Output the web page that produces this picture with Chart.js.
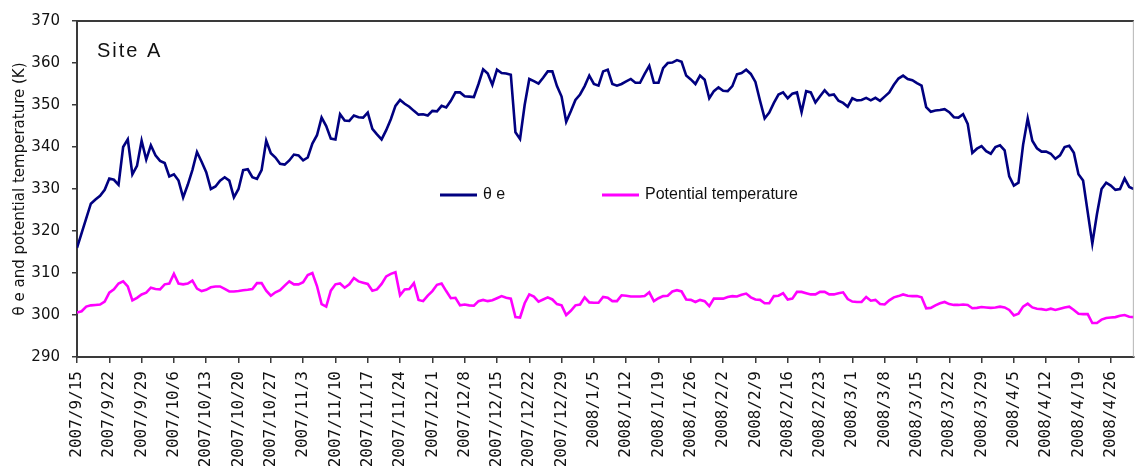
<!DOCTYPE html>
<html>
<head>
<meta charset="utf-8">
<script src="https://cdn.jsdelivr.net/npm/chart.js@4/dist/chart.umd.min.js"></script>
<style>
  html, body { margin: 0; padding: 0; background: #ffffff; }
  #wrap { width: 1138px; height: 466px; }
</style>
</head>
<body>
<div id="wrap"><canvas id="c" width="1138" height="466"></canvas></div>
<script>
// Weekly tick labels along the date axis (one every 7 days from the first day)
const tickLabels = [
  '2007/9/15','2007/9/22','2007/9/29','2007/10/6','2007/10/13','2007/10/20','2007/10/27',
  '2007/11/3','2007/11/10','2007/11/17','2007/11/24','2007/12/1','2007/12/8','2007/12/15',
  '2007/12/22','2007/12/29','2008/1/5','2008/1/12','2008/1/19','2008/1/26','2008/2/2',
  '2008/2/9','2008/2/16','2008/2/23','2008/3/1','2008/3/8','2008/3/15','2008/3/22',
  '2008/3/29','2008/4/5','2008/4/12','2008/4/19','2008/4/26'
];

// Daily equivalent potential temperature (K), starting 2007/9/15
const thetaE = [
  316.0, 319.5, 323.0, 326.5, 327.5, 328.4, 329.8, 332.5, 332.2, 331.0,
  340.0, 341.8, 333.5, 335.5, 341.5, 337.0, 340.4, 338.0, 336.7, 336.2,
  333.0, 333.5, 332.0, 328.0, 331.0, 334.5, 338.8, 336.5, 334.0, 330.0,
  330.6, 332.0, 332.8, 332.0, 328.0, 330.0, 334.5, 334.7, 332.8, 332.4,
  334.5, 341.5, 338.5, 337.5, 336.0, 335.8, 336.8, 338.2, 338.0, 336.8,
  337.5, 340.8, 342.8, 347.0, 345.0, 342.0, 341.8, 347.8, 346.3, 346.2,
  347.5, 347.1, 347.0, 348.2, 344.3, 343.0, 341.8, 344.0, 346.6, 349.8,
  351.2, 350.3, 349.6, 348.6, 347.7, 347.8, 347.5, 348.6, 348.5, 349.8,
  349.4, 351.0, 353.0, 353.0, 352.1, 352.0, 351.9, 355.0, 358.5, 357.5,
  354.8, 358.4, 357.6, 357.5, 357.2, 343.5, 341.9, 350.0, 356.2, 355.7,
  355.1, 356.5, 358.0, 358.0, 354.5, 352.0, 346.0, 348.5, 351.2, 352.5,
  354.5, 357.0, 355.0, 354.6, 358.0, 358.4, 355.0, 354.6, 355.0, 355.6,
  356.2, 355.3, 355.3, 357.4, 359.3, 355.3, 355.3, 358.8, 360.0, 360.1,
  360.7, 360.3, 357.0, 356.1, 355.0, 357.0, 356.0, 351.6, 353.3, 354.2,
  353.4, 353.3, 354.5, 357.3, 357.6, 358.4, 357.4, 355.5, 351.0, 346.8,
  348.2, 350.5, 352.5, 353.0, 351.6, 352.7, 353.0, 348.3, 353.3, 353.0,
  350.6, 352.1, 353.5, 352.3, 352.5, 351.0, 350.5, 349.6, 351.6, 351.1,
  351.2, 351.7, 351.1, 351.7, 351.0, 352.0, 353.0, 354.8, 356.3, 357.0,
  356.2, 355.9, 355.2, 354.6, 349.5, 348.4, 348.7, 348.8, 349.0, 348.3,
  347.1, 347.0, 347.8, 345.5, 338.6, 339.6, 340.2, 339.0, 338.4, 340.0,
  340.4, 339.2, 333.0, 330.8, 331.5, 340.5, 346.8, 341.5, 339.7, 338.9,
  338.9, 338.4, 337.2, 338.0, 340.0, 340.3, 338.6, 333.5, 332.0, 324.5,
  317.0, 324.0, 330.0, 331.5, 330.8, 329.8, 330.0, 332.5, 330.5, 330.0
];

// Daily potential temperature (K), same days
const potentialTemp = [
  300.6, 300.9, 302.0, 302.3, 302.4, 302.5, 303.2, 305.3, 306.1, 307.5,
  308.0, 306.8, 303.5, 304.1, 304.9, 305.3, 306.5, 306.2, 306.1, 307.3,
  307.5, 309.8, 307.5, 307.3, 307.5, 308.2, 306.3, 305.7, 306.0, 306.6,
  306.8, 306.8, 306.2, 305.6, 305.6, 305.7, 305.9, 306.0, 306.2, 307.6,
  307.6, 305.8, 304.6, 305.4, 305.9, 307.0, 308.0, 307.3, 307.3, 307.8,
  309.5, 310.0, 306.9, 302.6, 302.0, 305.8, 307.3, 307.5, 306.5, 307.3,
  308.8, 308.0, 307.7, 307.4, 305.8, 306.1, 307.4, 309.2, 309.8, 310.2,
  304.7, 306.1, 306.2, 307.6, 303.6, 303.3, 304.6, 305.7, 307.2, 307.5,
  305.7, 304.0, 304.1, 302.3, 302.5, 302.3, 302.2, 303.3, 303.6, 303.3,
  303.5, 304.0, 304.5, 304.1, 303.9, 299.5, 299.4, 302.8, 304.9, 304.4,
  303.2, 303.7, 304.2, 303.7, 302.6, 302.3, 300.0, 301.0, 302.3, 302.5,
  304.2, 303.0, 302.9, 302.9, 304.3, 304.1, 303.3, 303.3, 304.7, 304.6,
  304.4, 304.4, 304.4, 304.5, 305.4, 303.3, 304.0, 304.5, 304.6, 305.6,
  305.9, 305.6, 303.7, 303.6, 303.1, 303.6, 303.3, 302.1, 303.9, 303.9,
  303.9, 304.3, 304.5, 304.4, 304.8, 305.1, 304.2, 303.7, 303.6, 302.8,
  302.8, 304.5, 304.6, 305.2, 303.7, 303.9, 305.5, 305.5, 305.2, 304.9,
  304.9, 305.5, 305.5, 304.9, 304.9, 305.2, 305.4, 303.8, 303.2, 303.1,
  303.1, 304.3, 303.4, 303.6, 302.6, 302.5, 303.5, 304.2, 304.5, 304.9,
  304.6, 304.5, 304.5, 304.2, 301.6, 301.7, 302.3, 302.8, 303.1, 302.6,
  302.4, 302.4, 302.5, 302.4, 301.6, 301.7, 301.9, 301.8, 301.7, 301.8,
  302.0, 301.8, 301.2, 299.9, 300.3, 302.0, 302.7, 301.8, 301.5, 301.4,
  301.2, 301.5, 301.2, 301.5, 301.8, 302.0, 301.2, 300.3, 300.2, 300.2,
  298.1, 298.1, 298.9, 299.3, 299.4, 299.5, 299.8, 300.0, 299.6, 299.5
];

const seriesNames = ['\u03b8 e', 'Potential temperature'];
const yTicks = { min: 290, max: 370, step: 10 };

const toPoints = arr => arr.map((v, i) => ({ x: i, y: v }));
const lastDay = thetaE.length - 1;

// Plot frame, site caption and in-plot legend
const decorations = {
  id: 'decorations',
  afterDraw(chart) {
    const { ctx, chartArea: a } = chart;
    ctx.save();
    // top frame edge
    ctx.strokeStyle = '#3a3a3a';
    ctx.lineWidth = 2;
    ctx.beginPath();
    ctx.moveTo(a.left, a.top);
    ctx.lineTo(a.right, a.top);
    ctx.stroke();
    // right frame edge
    ctx.strokeStyle = '#b4b4b4';
    ctx.lineWidth = 1;
    ctx.beginPath();
    ctx.moveTo(a.right - 0.5, a.top);
    ctx.lineTo(a.right - 0.5, a.bottom);
    ctx.stroke();

    // site caption
    ctx.fillStyle = '#111';
    ctx.font = '20px "Liberation Sans", Arial, sans-serif';
    ctx.textBaseline = 'alphabetic';
    ctx.textAlign = 'left';
    if ('letterSpacing' in ctx) ctx.letterSpacing = '2px';
    ctx.fillText('Site A', a.left + 20, a.top + 36);
    if ('letterSpacing' in ctx) ctx.letterSpacing = '0px';

    // legend entries
    const legendY = a.top + 174;
    const entries = [
      { x: a.left + 363, ds: chart.data.datasets[0] },
      { x: a.left + 525, ds: chart.data.datasets[1] }
    ];
    ctx.font = '16px "Liberation Sans", Arial, sans-serif';
    ctx.textBaseline = 'middle';
    entries.forEach(e => {
      ctx.strokeStyle = e.ds.borderColor;
      ctx.lineWidth = 3;
      ctx.beginPath();
      ctx.moveTo(e.x, legendY);
      ctx.lineTo(e.x + 37, legendY);
      ctx.stroke();
      ctx.fillStyle = '#111';
      ctx.fillText(e.ds.label, e.x + 43, legendY);
    });
    ctx.restore();
  }
};

new Chart(document.getElementById('c'), {
  type: 'line',
  data: {
    datasets: [
      {
        label: seriesNames[0],
        data: toPoints(thetaE),
        borderColor: '#000080',
        borderWidth: 2.6,
        pointRadius: 0,
        tension: 0,
        fill: false
      },
      {
        label: seriesNames[1],
        data: toPoints(potentialTemp),
        borderColor: '#ff00ff',
        borderWidth: 2.6,
        pointRadius: 0,
        tension: 0,
        fill: false
      }
    ]
  },
  options: {
    responsive: false,
    animation: false,
    events: [],
    layout: { padding: { top: 17, right: 1, left: 0, bottom: 0 } },
    plugins: {
      legend: { display: false },
      tooltip: { enabled: false }
    },
    scales: {
      x: {
        type: 'linear',
        min: 0,
        max: lastDay,
        afterFit(scale) { scale.height = 109; },
        border: { display: true, color: '#3a3a3a', width: 2 },
        grid: { drawOnChartArea: false, drawTicks: true, tickLength: 6, color: '#3a3a3a', lineWidth: 1.5 },
        ticks: {
          stepSize: 7,
          includeBounds: false,
          autoSkip: false,
          minRotation: 90,
          maxRotation: 90,
          padding: 8,
          color: '#111',
          font: { family: '"DejaVu Sans Mono", monospace', size: 16 },
          callback: v => tickLabels[Math.round(v / 7)] || ''
        }
      },
      y: {
        min: yTicks.min,
        max: yTicks.max,
        afterFit(scale) { scale.width = 77; },
        border: { display: true, color: '#3a3a3a', width: 2 },
        grid: { drawOnChartArea: false, drawTicks: true, tickLength: 5, color: '#3a3a3a', lineWidth: 1.5 },
        ticks: {
          stepSize: yTicks.step,
          padding: 12,
          color: '#111',
          font: { family: '"DejaVu Sans", sans-serif', size: 15 }
        },
        title: {
          display: true,
          text: '\u03b8 e and potential temperature (K)',
          color: '#111',
          font: { family: '"DejaVu Sans", sans-serif', size: 15 },
          padding: { top: 11, bottom: 0 }
        }
      }
    }
  },
  plugins: [decorations]
});
</script>
</body>
</html>
